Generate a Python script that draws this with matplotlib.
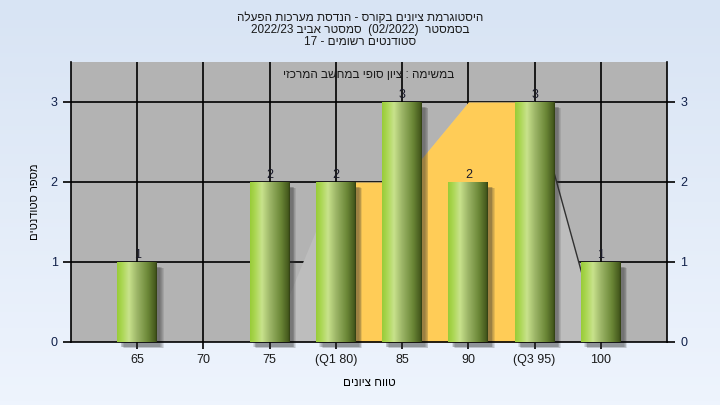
import numpy as np
import matplotlib
matplotlib.use('Agg')
import matplotlib.pyplot as plt
from matplotlib.colors import to_rgb
from matplotlib.patches import Rectangle

plt.rcParams['font.family'] = ['Liberation Sans', 'DejaVu Sans']

# data
grades = ['65', '70', '75', '(Q1 80)', '85', '90', '(Q3 95)', '100']
counts = [1, 0, 2, 2, 3, 2, 3, 1]
# background area (distribution outline), Q1..Q3 part is yellow
area_vals = [0, 0, 0, 2, 2, 3, 3, 0]
q1_idx = 3
q3_idx = 6

title_lines = ['היסטוגרמת ציונים בקורס - הנדסת מערכות הפעלה',
               'בסמסטר  (02/2022)  סמסטר אביב 2022/23',
               'סטודנטים רשומים - 17']
task_text = 'במשימה : ציון סופי במחשב המרכזי'
xlabel = 'טווח ציונים'
ylabel = 'מספר סטודנטים'


def rtl(s):
    # crude visual reordering for right-to-left text
    out = []
    for tok in s.split(' ')[::-1]:
        if any('\u0590' <= c <= '\u05ff' for c in tok):
            tok = tok[::-1]
        out.append(tok)
    return ' '.join(out)


def gradient(stops, n=256):
    pos = [p for p, c in stops]
    cols = np.array([to_rgb(c) for p, c in stops])
    t = np.linspace(0, 1, n)
    return np.stack([np.interp(t, pos, cols[:, k]) for k in range(3)], axis=-1)[None, :, :]


fig = plt.figure(figsize=(7.2, 4.05), dpi=100)

# figure background gradient
bg = fig.add_axes([0, 0, 1, 1], zorder=-10)
bg_col = np.linspace(0, 1, 100)[:, None, None] * (np.array(to_rgb('#eef4fd')) - np.array(to_rgb('#d8e4f4'))) + np.array(to_rgb('#d8e4f4'))
bg.imshow(bg_col, aspect='auto', extent=[0, 1, 0, 1], origin='upper')
bg.axis('off')

ax = fig.add_axes([71 / 720, 63 / 405, 596 / 720, 280 / 405])
ax.set_facecolor('#b3b3b3')
x = np.arange(len(grades))

# grid
for yy in [1, 2, 3]:
    ax.axhline(yy, color='black', lw=1.2, zorder=1)
for xx in x:
    ax.axvline(xx, color='black', lw=1.2, zorder=1)

# area behind bars
ax.fill_between(x, area_vals, color='#bdbdbd', lw=0, zorder=2)
ax.fill_between(x[q1_idx:q3_idx + 1], area_vals[q1_idx:q3_idx + 1], color='#ffcc57', lw=0, zorder=2)
ax.plot(x[q3_idx:], area_vals[q3_idx:], color='#303030', lw=1, zorder=2)

# bars with cylinder look + shadow
bar_w = 0.6
grad = gradient([(0.0, '#98cb38'), (0.12, '#aad651'), (0.3, '#c8e28c'), (0.5, '#9db668'),
                 (0.78, '#6a8636'), (0.96, '#45591d'), (1.0, '#2f3d12')])
for xi, c in zip(x, counts):
    if c == 0:
        continue
    for k in range(5):
        ax.add_patch(Rectangle((xi - bar_w / 2 + 0.05 + k * 0.012, -0.06 - k * 0.004),
                               bar_w, c, color='#303030', alpha=0.12, lw=0,
                               zorder=2.5, clip_on=False))
    ax.imshow(grad, extent=[xi - bar_w / 2, xi + bar_w / 2, 0, c], aspect='auto', zorder=3)
    ax.text(xi, c + 0.01, str(c), ha='center', va='bottom', fontsize=9, color='#1a1a2a', zorder=4)

ax.set_xlim(-1, 8)
ax.set_ylim(0, 3.5)
ax.set_xticks(x)
ax.set_xticklabels(grades, fontsize=9, color='#1a1a1a')
ax.set_yticks([0, 1, 2, 3])
ax.tick_params(axis='y', labelsize=9, labelcolor='#10204a', length=6, width=1.2,
               right=True, labelright=True, direction='out')
ax.tick_params(axis='x', length=5, width=1.2, direction='out')
ax.spines['top'].set_visible(False)
for s in ['left', 'right', 'bottom']:
    ax.spines[s].set_linewidth(1.2)

ax.set_xlabel(rtl(xlabel), fontsize=8.5, labelpad=8)
ax.set_ylabel(rtl(ylabel), fontsize=8, labelpad=8)

ax.text(0.5, 0.955, rtl(task_text), transform=ax.transAxes, ha='center', va='center',
        fontsize=8.5, color='#1a1a1a', zorder=5)

for i, line in enumerate(title_lines):
    fig.text(0.5, 1 - (18 + 12 * i) / 405, rtl(line), ha='center', va='center',
             fontsize=8.5, color='#1a1a1a')

plt.savefig('out.png', dpi=100)
